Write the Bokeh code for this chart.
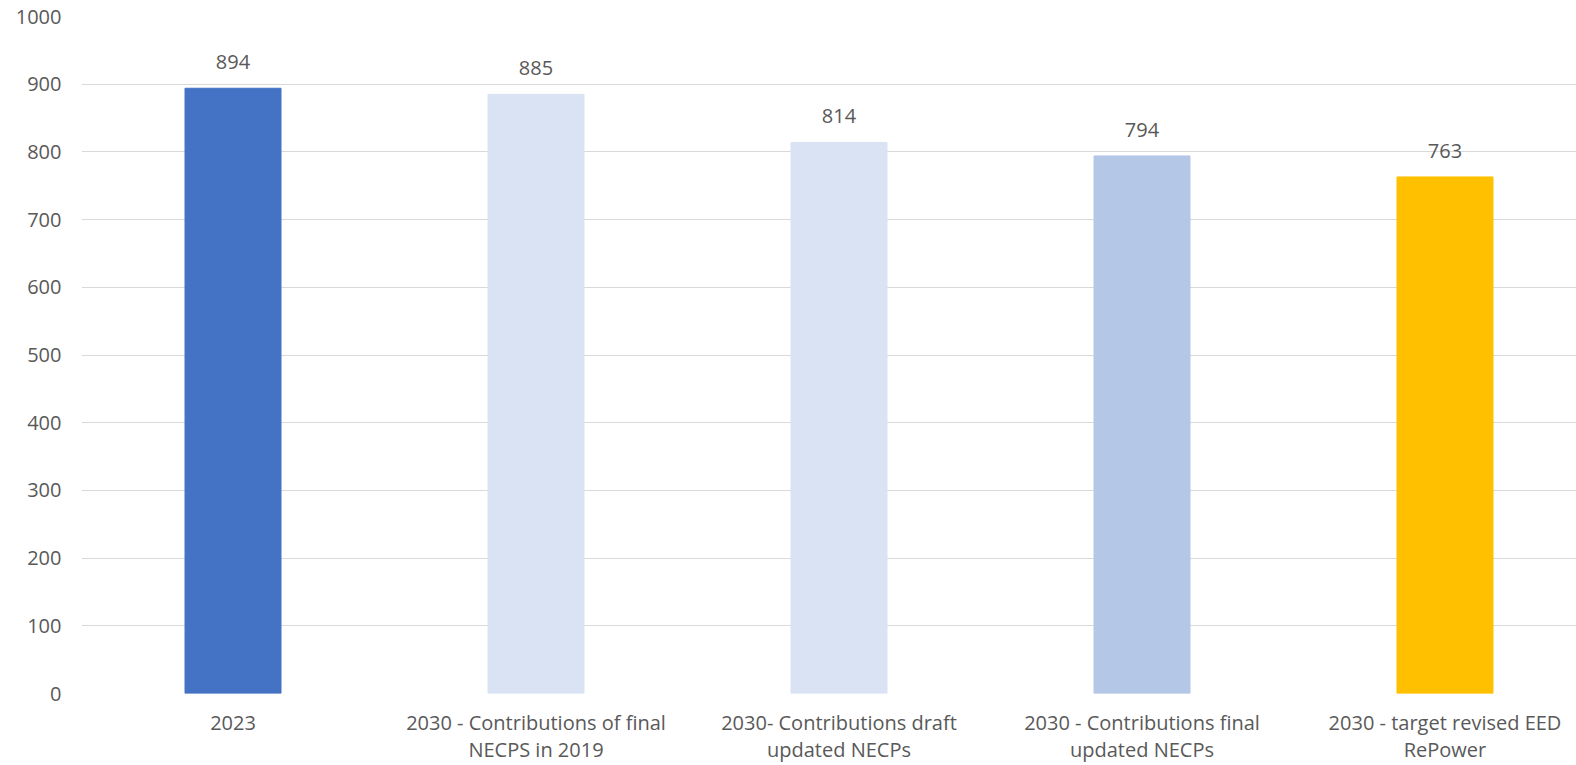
from bokeh.plotting import figure
from bokeh.models import Range1d, FixedTicker, ColumnDataSource
from bokeh.embed import file_html
from bokeh.resources import INLINE
from bokeh.core.properties import value

categories = [
    "2023",
    "2030 - Contributions of final\nNECPS in 2019",
    "2030- Contributions draft\nupdated NECPs",
    "2030 - Contributions final\nupdated NECPs",
    "2030 - target revised EED\nRePower",
]
values = [894, 885, 814, 794, 763]
colors = ["#4472C4", "#DAE3F3", "#DAE3F3", "#B4C7E7", "#FFC000"]
y_ticks = [0, 100, 200, 300, 400, 500, 600, 700, 800, 900, 1000]

FONT = "Open Sans"
TXT = "#595959"

xs = [i + 0.5 for i in range(len(categories))]
src = ColumnDataSource(dict(x=xs, top=values, color=colors,
                            label=[str(v) for v in values]))

p = figure(width=1576, height=765, output_backend="svg", toolbar_location=None,
           x_range=Range1d(0, 1495 / 303), y_range=Range1d(0, 1000),
           min_border_left=81, min_border_right=0, min_border_top=16,
           min_border_bottom=60)
p.outline_line_color = None
p.background_fill_color = "white"
p.border_fill_color = "white"

p.vbar(x="x", top="top", width=96 / 303, color="color", source=src)
p.text(x="x", y="top", text="label", source=src, text_align="center",
       text_baseline="middle", y_offset=-26, text_color=TXT,
       text_font=value(FONT), text_font_size="20px")

# axes
p.xaxis.ticker = FixedTicker(ticks=xs)
p.xaxis.major_label_overrides = {x: c for x, c in zip(xs, categories)}
p.yaxis.ticker = FixedTicker(ticks=y_ticks)
for ax in (p.xaxis[0], p.yaxis[0]):
    ax.axis_line_color = None
    ax.major_tick_line_color = None
    ax.minor_tick_line_color = None
    ax.major_tick_out = 0
    ax.major_tick_in = 0
    ax.major_label_text_color = TXT
    ax.major_label_text_font = FONT
    ax.major_label_text_font_size = "20px"
p.xaxis.major_label_text_line_height = 1.0
p.yaxis.major_label_standoff = 20
p.xaxis.major_label_standoff = 15

p.xgrid.grid_line_color = None
p.ygrid.ticker = FixedTicker(ticks=y_ticks)
p.ygrid.grid_line_color = "#d9d9d9"
p.ygrid.grid_line_width = 1

open("out.html", "w").write(file_html(p, INLINE))
